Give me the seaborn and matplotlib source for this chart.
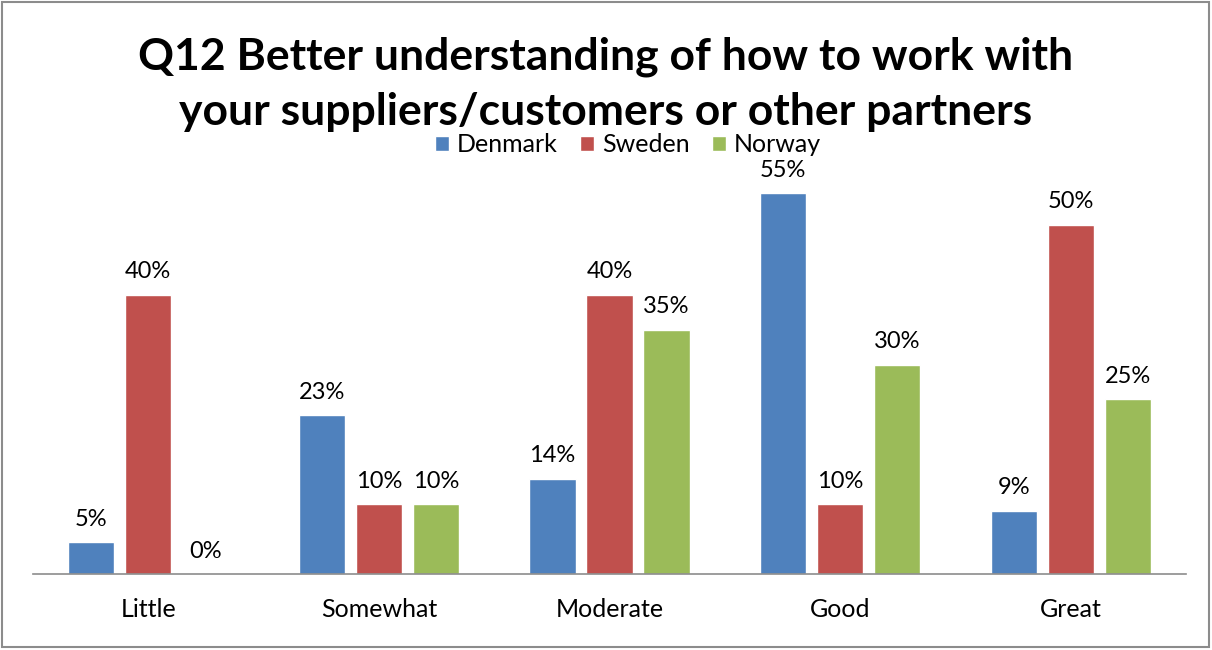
import matplotlib
matplotlib.use("Agg")
import matplotlib.pyplot as plt
import seaborn as sns
import pandas as pd
from matplotlib.patches import Rectangle

categories = ["Little", "Somewhat", "Moderate", "Good", "Great"]
countries = ["Denmark", "Sweden", "Norway"]
denmark = [4.55, 22.73, 13.64, 54.55, 9.09]
sweden = [40.0, 10.0, 40.0, 10.0, 50.0]
norway = [0.0, 10.0, 35.0, 30.0, 25.0]
colors = ["#4F81BD", "#C0504D", "#9BBB59"]
title = "Q12 Better understanding of how to work with\nyour suppliers/customers or other partners"

rows = []
for country, vals in zip(countries, [denmark, sweden, norway]):
    for cat, v in zip(categories, vals):
        rows.append({"Category": cat, "Country": country, "Value": v})
df = pd.DataFrame(rows)

sns.set_theme(style="white")
plt.rcParams["font.family"] = ["Lato", "DejaVu Sans"]
plt.rcParams["text.color"] = "black"

fig = plt.figure(figsize=(12.12, 6.5), dpi=100)
ax = fig.add_axes([33 / 1212, (650 - 574) / 650, (1186 - 33) / 1212, (574 - 155) / 650])

sns.barplot(data=df, x="Category", y="Value", hue="Country", order=categories,
            hue_order=countries, palette=colors, width=0.742, gap=0.19,
            saturation=1, ax=ax, legend=True, errorbar=None)

ax.set_ylim(0, 60)
ax.set_xlim(-0.5, len(categories) - 0.5)
ax.set_xlabel("")
ax.set_ylabel("")
ax.set_yticks([])
for side in ["top", "right", "left"]:
    ax.spines[side].set_visible(False)
ax.spines["bottom"].set_color("#8C8C8C")
ax.spines["bottom"].set_linewidth(1.2)
ax.tick_params(axis="x", length=0, labelsize=18, pad=17, colors="black")

for container in ax.containers:
    ax.bar_label(container, fmt="%.0f%%", padding=9, fontsize=17, color="black")

handles, labels = ax.get_legend_handles_labels()
ax.get_legend().remove()
fig.legend(handles, labels, loc="center", bbox_to_anchor=(628 / 1212, 1 - 145 / 650),
           ncol=3, frameon=False, fontsize=18, handlelength=0.56, handleheight=0.56,
           handletextpad=0.3, columnspacing=0.9, borderpad=0, labelcolor="black")

fig.text(606 / 1212, 1 - 84 / 650, title, ha="center", va="center",
         fontsize=32, fontweight="bold", linespacing=1.45, color="black")

fig.patches.append(Rectangle((2 / 1212, 3 / 650), 1207 / 1212, 645 / 650,
                             transform=fig.transFigure, fill=False,
                             edgecolor="#8C8C8C", linewidth=1.5))

fig.savefig("out.png", dpi=100)
